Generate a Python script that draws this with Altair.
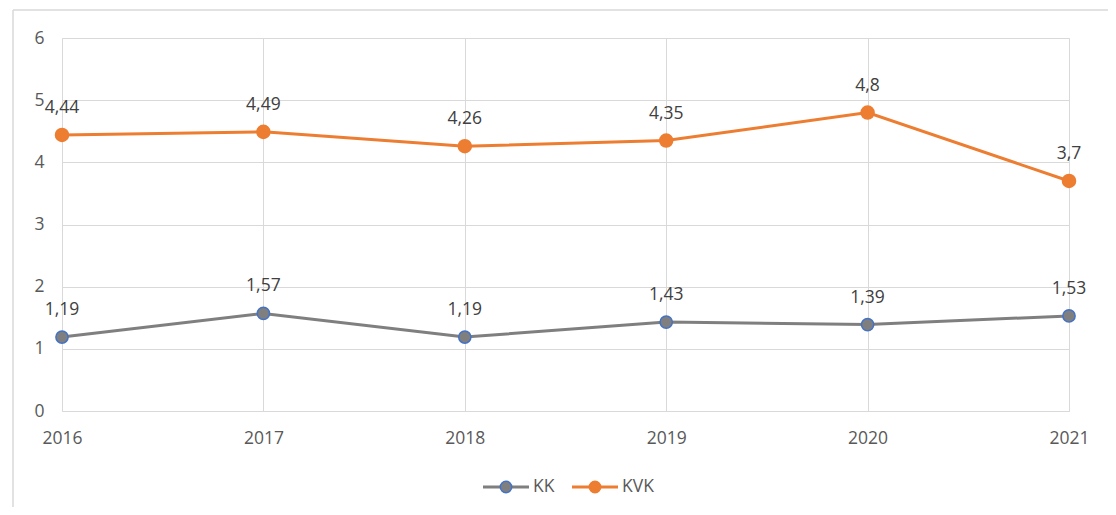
import altair as alt
import pandas as pd

years = [2016, 2017, 2018, 2019, 2020, 2021]
kk = [1.19, 1.57, 1.19, 1.43, 1.39, 1.53]
kvk = [4.44, 4.49, 4.26, 4.35, 4.8, 3.7]
series = ["KK", "KVK"]
line_colors = ["#7f7f7f", "#ed7d31"]
point_strokes = ["#4472c4", "#ed7d31"]
y_ticks = [0, 1, 2, 3, 4, 5, 6]

rows = []
for s, vals in zip(series, [kk, kvk]):
    for yr, v in zip(years, vals):
        rows.append({"year": yr, "value": v, "series": s,
                     "label": (f"{v:g}").replace(".", ",")})
df = pd.DataFrame(rows)

FONT = "Open Sans"
W, H = 1007, 373
FS = 17.5

x = alt.X("year:Q", scale=alt.Scale(domain=[2016, 2021], nice=False, zero=False),
          axis=alt.Axis(values=years, format="d", grid=True, gridColor="#d9d9d9",
                        domain=False, ticks=False, labelPadding=18, labelFontSize=FS,
                        labelFlush=False, labelOverlap=False,
                        labelColor="#595959", labelFont=FONT, title=None))
y = alt.Y("value:Q", scale=alt.Scale(domain=[0, 6], nice=False),
          axis=alt.Axis(values=y_ticks, grid=True, gridColor="#d9d9d9", domain=False,
                        ticks=False, labelPadding=18, labelFontSize=FS,
                        labelFlush=False, labelOverlap=False,
                        labelColor="#595959", labelFont=FONT, title=None))

layers = []
for s, lc, ps in zip(series, line_colors, point_strokes):
    d = df[df.series == s]
    base = alt.Chart(d)
    layers.append(base.mark_line(color=lc, strokeWidth=3).encode(x=x, y=y))
    layers.append(base.mark_point(filled=True, fill=lc, stroke=ps, strokeWidth=1.5,
                                  size=150 if s == "KK" else 170, opacity=1).encode(x=x, y=y))
    layers.append(base.mark_text(dy=-27, fontSize=FS, color="#404040", font=FONT)
                  .encode(x=x, y=y, text="label:N"))

# outer frame (partially cropped at right and bottom)
frame = alt.Chart(pd.DataFrame({"a": [0]}))
layers.append(frame.mark_rule(color="#d9d9d9", strokeWidth=1.5)
              .encode(x=alt.value(-49), x2=alt.value(1060), y=alt.value(-28)))
layers.append(frame.mark_rule(color="#d9d9d9", strokeWidth=1.5)
              .encode(x=alt.value(-49), y=alt.value(-28), y2=alt.value(480)))

# manual legend
leg_x = [444, 533]
for s, lc, ps, cx in zip(series, line_colors, point_strokes, leg_x):
    ld = alt.Chart(pd.DataFrame({"name": [s]}))
    layers.append(ld.mark_rule(color=lc, strokeWidth=3)
                  .encode(x=alt.value(cx - 23), x2=alt.value(cx + 23), y=alt.value(449)))
    layers.append(ld.mark_point(filled=True, fill=lc, stroke=ps, strokeWidth=1.5,
                                size=130, opacity=1)
                  .encode(x=alt.value(cx), y=alt.value(449)))
    layers.append(ld.mark_text(align="left", baseline="middle", fontSize=FS,
                               color="#595959", font=FONT)
                  .encode(x=alt.value(cx + 27), y=alt.value(449), text="name:N"))

chart = alt.layer(*layers).properties(
    width=W, height=H,
    autosize=alt.AutoSizeParams(type="none"),
    padding={"left": 54, "top": 30, "right": 39, "bottom": 96},
).configure_view(stroke=None).configure(background="white")

chart.save("out.html", embed_options={"renderer": "svg", "actions": False})
